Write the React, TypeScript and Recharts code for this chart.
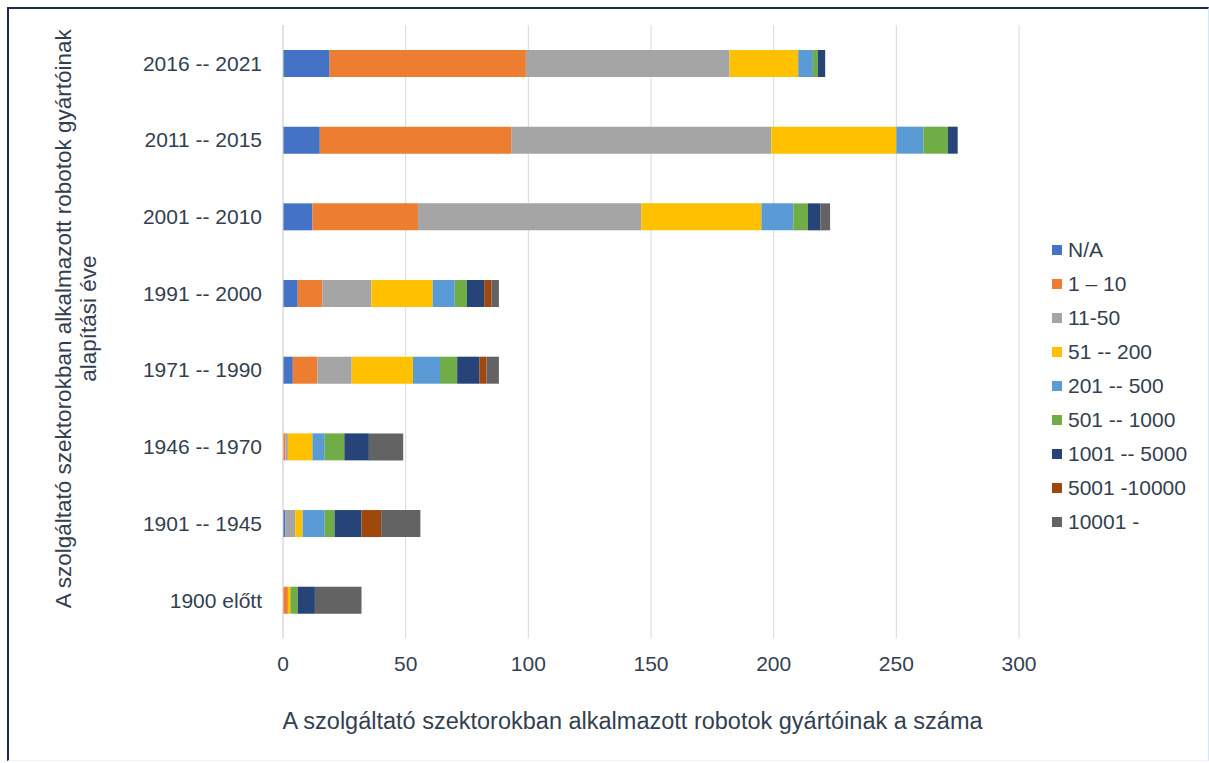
import { Bar, BarChart, CartesianGrid, Legend, XAxis, YAxis } from "recharts";

const periods = [
    "2016 -- 2021",
    "2011 -- 2015",
    "2001 -- 2010",
    "1991 -- 2000",
    "1971 -- 1990",
    "1946 -- 1970",
    "1901 -- 1945",
    "1900 előtt",
];

// manufacturers per headcount band, one value per founding period
const na = [19, 15, 12, 6, 4, 0, 1, 0];
const s1to10 = [80, 78, 43, 10, 10, 1, 0, 2];
const s11to50 = [83, 106, 91, 20, 14, 1, 4, 0];
const s51to200 = [28, 51, 49, 25, 25, 10, 3, 1];
const s201to500 = [6, 11, 13, 9, 11, 5, 9, 0];
const s501to1000 = [2, 10, 6, 5, 7, 8, 4, 3];
const s1001to5000 = [3, 4, 5, 7, 9, 10, 11, 7];
const s5001to10000 = [0, 0, 0, 3, 3, 0, 8, 0];
const s10001plus = [0, 0, 4, 3, 5, 14, 16, 19];

const xTicks = [0, 50, 100, 150, 200, 250, 300];

const series = [
    { key: "na", name: "N/A", values: na, color: "#4472c4" },
    { key: "s1", name: "1 – 10", values: s1to10, color: "#ed7d31" },
    { key: "s11", name: "11-50", values: s11to50, color: "#a5a5a5" },
    { key: "s51", name: "51 -- 200", values: s51to200, color: "#ffc000" },
    { key: "s201", name: "201 -- 500", values: s201to500, color: "#5b9bd5" },
    { key: "s501", name: "501 -- 1000", values: s501to1000, color: "#70ad47" },
    { key: "s1001", name: "1001 -- 5000", values: s1001to5000, color: "#264478" },
    { key: "s5001", name: "5001 -10000", values: s5001to10000, color: "#9e480e" },
    { key: "s10001", name: "10001 -", values: s10001plus, color: "#636363" },
];

const data = periods.map((period, i) => {
    const row: Record<string, string | number> = { period };
    series.forEach((s) => {
        row[s.key] = s.values[i];
    });
    return row;
});

const FONT = "'Liberation Sans', Arial, sans-serif";
const TEXT = "#333f50";

const YTitle = (props: any) => {
    const vb = props.viewBox;
    const cy = vb.y + vb.height / 2 - 13;
    return (
        <text
            transform={`translate(71, ${cy}) rotate(-90)`}
            textAnchor="middle"
            fill={TEXT}
            fontSize={22.5}
            fontFamily={FONT}
        >
            <tspan x={0} y={0}>A szolgáltató szektorokban alkalmazott robotok gyártóinak</tspan>
            <tspan x={0} y={25}>alapítási éve</tspan>
        </text>
    );
};

const XTitle = (props: any) => {
    const vb = props.viewBox;
    return (
        <text
            x={vb.x + vb.width / 2 - 18.5}
            y={vb.y + 91}
            textAnchor="middle"
            fill={TEXT}
            fontSize={23.5}
            fontFamily={FONT}
        >
            A szolgáltató szektorokban alkalmazott robotok gyártóinak a száma
        </text>
    );
};

// legend drawn straight from the series list so it keeps the stacking order
const LegendList = () => (
    <ul style={{ listStyle: "none", margin: 0, padding: 0 }}>
        {series.map((s) => (
            <li
                key={s.key}
                style={{
                    height: 34,
                    lineHeight: "34px",
                    fontSize: 21,
                    fontFamily: FONT,
                    color: TEXT,
                    whiteSpace: "nowrap",
                    display: "flex",
                    alignItems: "center",
                }}
            >
                <span
                    style={{
                        display: "inline-block",
                        width: 10,
                        height: 10,
                        background: s.color,
                        marginRight: 6,
                    }}
                />
                {s.name}
            </li>
        ))}
    </ul>
);

const App = () => {
    return (
        <div
            style={{
                position: "absolute",
                left: 0,
                top: 0,
                width: 1209,
                height: 763,
                background: "#ffffff",
            }}
        >
            <div
                style={{
                    position: "absolute",
                    left: 7,
                    top: 7,
                    width: 1199,
                    height: 751,
                    borderLeft: "2px solid #1f2a44",
                    borderTop: "2px solid #1f2a44",
                    borderRight: "1px solid #d3e8f5",
                    borderBottom: "1px solid #eef5fa",
                }}
            />
            <BarChart
                width={1209}
                height={763}
                data={data}
                layout="vertical"
                margin={{ top: 25, right: 40, bottom: 0, left: 0 }}
                style={{ position: "absolute", left: 0, top: 0 }}
            >
                <CartesianGrid horizontal={false} stroke="#d9d9d9" />
                <XAxis
                    type="number"
                    domain={[0, 300]}
                    ticks={xTicks}
                    height={124.6}
                    axisLine={false}
                    tickLine={false}
                    tickSize={0}
                    tickMargin={18}
                    tick={{ fill: TEXT, fontSize: 21, fontFamily: FONT }}
                    label={{ content: <XTitle /> }}
                />
                <YAxis
                    type="category"
                    dataKey="period"
                    width={283}
                    interval={0}
                    axisLine={{ stroke: "#d9d9d9" }}
                    tickLine={false}
                    tickSize={0}
                    tickMargin={21}
                    tick={{ fill: TEXT, fontSize: 21, fontFamily: FONT }}
                    label={{ content: <YTitle /> }}
                />
                <Legend
                    layout="vertical"
                    align="right"
                    verticalAlign="middle"
                    content={<LegendList />}
                    wrapperStyle={{ left: 1052, top: 233, width: 150 }}
                />
                {series.map((s) => (
                    <Bar
                        key={s.key}
                        dataKey={s.key}
                        name={s.name}
                        stackId="a"
                        fill={s.color}
                        barSize={27}
                        isAnimationActive={false}
                    />
                ))}
            </BarChart>
        </div>
    );
};

export default App;
